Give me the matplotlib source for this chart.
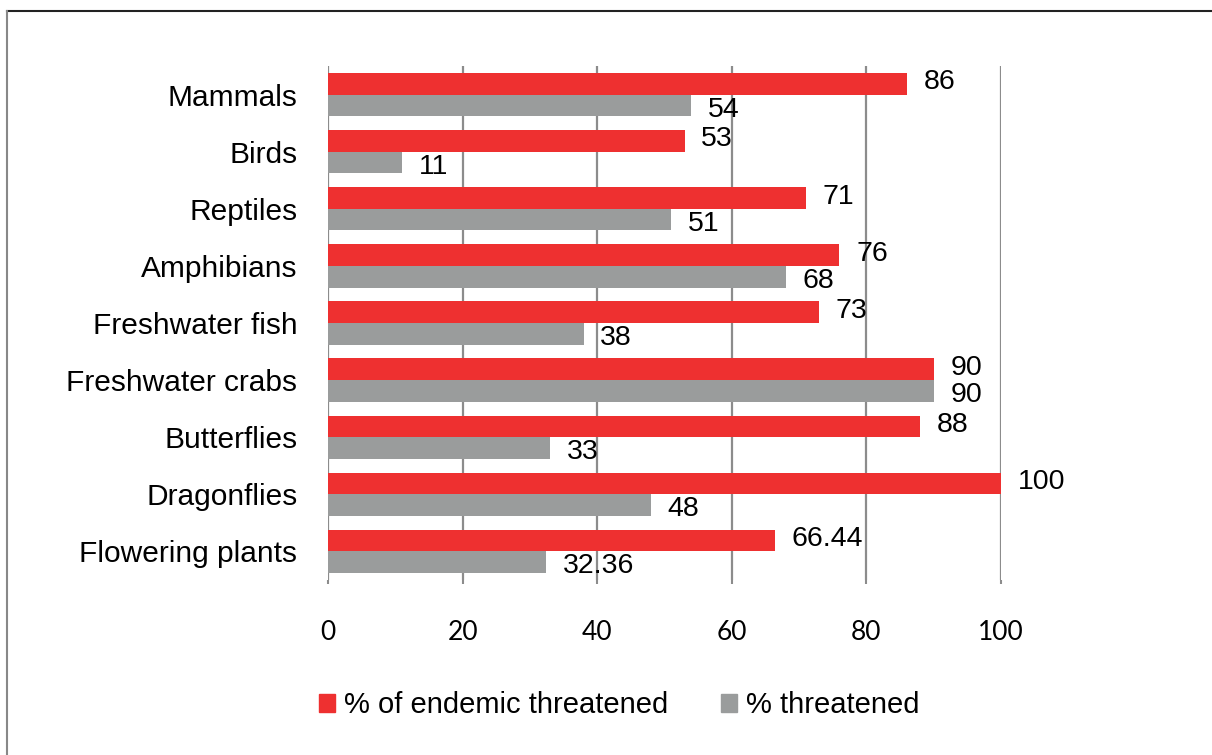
import matplotlib.pyplot as plt
from matplotlib.lines import Line2D
from matplotlib.patches import Patch
import numpy as np

# Data
categories = ['Mammals', 'Birds', 'Reptiles', 'Amphibians', 'Freshwater fish',
              'Freshwater crabs', 'Butterflies', 'Dragonflies', 'Flowering plants']
endemic_threatened = [86, 53, 71, 76, 73, 90, 88, 100, 66.44]
threatened = [54, 11, 51, 68, 38, 90, 33, 48, 32.36]
endemic_text = ['86', '53', '71', '76', '73', '90', '88', '100', '66.44']
threatened_text = ['54', '11', '51', '68', '38', '90', '33', '48', '32.36']
x_ticks = [0, 20, 40, 60, 80, 100]

red = '#ee3030'
grey = '#9a9c9c'
grid_col = '#8c8c8c'

plt.rcParams['font.family'] = ['Liberation Sans', 'DejaVu Sans']

fig = plt.figure(figsize=(12.12, 7.55), dpi=100)
ax = fig.add_axes([0.2706, 0.2318, 0.5553, 0.6808])

y = np.arange(len(categories))
h = 0.38
ax.barh(y - h / 2, endemic_threatened, height=h, color=red, label='% of endemic threatened')
ax.barh(y + h / 2, threatened, height=h, color=grey, label='% threatened')

# value labels next to the bars
for i in range(len(categories)):
    ax.annotate(endemic_text[i], (endemic_threatened[i], y[i] - h / 2),
                xytext=(12, 1), textcoords='offset points',
                va='center', ha='left', fontsize=20.5)
    ax.annotate(threatened_text[i], (threatened[i], y[i] + h / 2),
                xytext=(12, -3), textcoords='offset points',
                va='center', ha='left', fontsize=20.5)

ax.set_xlim(0, 100)
ax.set_ylim(len(categories) - 0.5, -0.5)
ax.set_xticks(x_ticks)
ax.set_xticklabels([str(t) for t in x_ticks], fontfamily='Lato', fontsize=19)
ax.set_yticks(y)
ax.set_yticklabels(categories, fontsize=21.5)

ax.tick_params(axis='y', length=0, pad=22)
ax.tick_params(axis='x', length=3, width=1.5, color=grid_col, pad=26)

for s in ax.spines.values():
    s.set_visible(False)
ax.grid(axis='x', color=grid_col, linewidth=1.6)
ax.grid(axis='y', visible=False)
ax.set_axisbelow(True)

handles = [Patch(color=red), Patch(color=grey)]
fig.legend(handles, ['% of endemic threatened', '% threatened'],
           loc='center', bbox_to_anchor=(0.511, 0.066), ncol=2, frameon=False,
           fontsize=21, handlelength=0.55, handleheight=0.55,
           handletextpad=0.3, columnspacing=1.8)

# frame lines at top and left of the picture
fig.add_artist(Line2D([7 / 1212, 1], [1 - 11 / 755, 1 - 11 / 755],
                      color='#222222', linewidth=1.5, transform=fig.transFigure))
fig.add_artist(Line2D([7 / 1212, 7 / 1212], [0, 1 - 11 / 755],
                      color='#888888', linewidth=1.5, transform=fig.transFigure))

plt.savefig('out.png', dpi=100)
